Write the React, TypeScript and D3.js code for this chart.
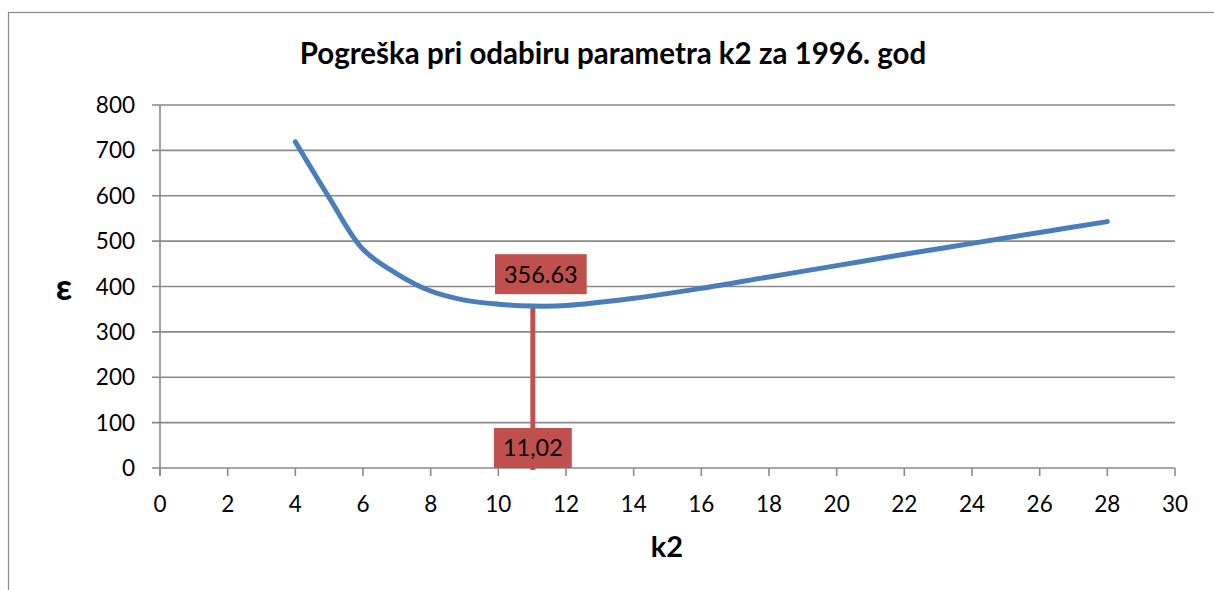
import { useEffect, useRef } from "react";
import * as d3 from "d3";

// curve
const k2Values = [4, 5, 6, 7, 8, 9, 10, 11, 12, 14, 16, 18, 20, 22, 24, 26, 28];
const errorValues = [719, 596, 482, 428, 390, 370, 361, 357, 358, 374, 396, 421, 446, 471, 495, 519, 543];

const xTicks = [0, 2, 4, 6, 8, 10, 12, 14, 16, 18, 20, 22, 24, 26, 28, 30];
const yTicks = [0, 100, 200, 300, 400, 500, 600, 700, 800];

// marked minimum
const minK2 = 11.02;
const minError = 356.63;
const minK2Label = "11,02";
const minErrorLabel = "356.63";

const title = "Pogreška pri odabiru parametra k2 za 1996. god";

const FONT = "Lato, 'Open Sans', sans-serif";
const GRID = "#8a8a8a";
const BLUE = "#4a7ebb";
const RED = "#c0504d";

const App = () => {
  const ref = useRef<SVGSVGElement>(null);

  useEffect(() => {
    if (!ref.current) return;
    const svg = d3.select(ref.current);
    svg.selectAll("*").remove();

    const left = 160;
    const right = 1175;
    const top = 105;
    const bottom = 468;

    const x = d3.scaleLinear().domain([0, 30]).range([left, right]);
    const y = d3.scaleLinear().domain([0, 800]).range([bottom, top]);

    // outer frame
    svg
      .append("rect")
      .attr("x", 8.5)
      .attr("y", 12.5)
      .attr("width", 1220)
      .attr("height", 600)
      .attr("fill", "#fff")
      .attr("stroke", GRID)
      .attr("stroke-width", 1.2);

    // title
    svg
      .append("text")
      .attr("x", 613)
      .attr("y", 64)
      .attr("text-anchor", "middle")
      .style("font-family", FONT)
      .style("font-weight", "bold")
      .style("font-size", "29.5px")
      .text(title);

    // horizontal gridlines + y ticks
    const g = svg.append("g");
    g.selectAll(".grid")
      .data(yTicks)
      .enter()
      .append("line")
      .attr("x1", left - 8)
      .attr("x2", right)
      .attr("y1", (d) => y(d))
      .attr("y2", (d) => y(d))
      .attr("stroke", GRID)
      .attr("stroke-width", 1.6);

    g.selectAll(".ylab")
      .data(yTicks)
      .enter()
      .append("text")
      .attr("x", 135)
      .attr("y", (d) => y(d))
      .attr("dy", "0.36em")
      .attr("text-anchor", "end")
      .style("font-family", FONT)
      .style("font-size", "22.5px")
      .text((d) => d);

    // y axis line
    g.append("line")
      .attr("x1", left)
      .attr("x2", left)
      .attr("y1", top)
      .attr("y2", bottom + 8)
      .attr("stroke", GRID)
      .attr("stroke-width", 1.6);

    // x ticks
    g.selectAll(".xtick")
      .data(xTicks)
      .enter()
      .append("line")
      .attr("x1", (d) => x(d))
      .attr("x2", (d) => x(d))
      .attr("y1", bottom)
      .attr("y2", bottom + 8)
      .attr("stroke", GRID)
      .attr("stroke-width", 1.6);

    g.selectAll(".xlab")
      .data(xTicks)
      .enter()
      .append("text")
      .attr("x", (d) => x(d))
      .attr("y", 512)
      .attr("text-anchor", "middle")
      .style("font-family", FONT)
      .style("font-size", "22.5px")
      .text((d) => d);

    // axis titles
    svg
      .append("text")
      .attr("x", 667)
      .attr("y", 557)
      .attr("text-anchor", "middle")
      .style("font-family", FONT)
      .style("font-weight", "bold")
      .style("font-size", "29px")
      .text("k2");

    svg
      .append("text")
      .attr("x", 64)
      .attr("y", 300)
      .attr("text-anchor", "middle")
      .style("font-family", FONT)
      .style("font-weight", "bold")
      .style("font-size", "36px")
      .text("ε");

    // drop line at the minimum
    svg
      .append("line")
      .attr("x1", x(minK2))
      .attr("x2", x(minK2))
      .attr("y1", y(minError))
      .attr("y2", y(0) + 2)
      .attr("stroke", RED)
      .attr("stroke-width", 5);

    // error curve
    const pts = k2Values.map((k, i) => [k, errorValues[i]] as [number, number]);
    const line = d3
      .line<[number, number]>()
      .x((d) => x(d[0]))
      .y((d) => y(d[1]))
      .curve(d3.curveCatmullRom.alpha(0.5));

    svg
      .append("path")
      .attr("d", line(pts))
      .attr("fill", "none")
      .attr("stroke", BLUE)
      .attr("stroke-width", 5)
      .attr("stroke-linecap", "round")
      .attr("stroke-linejoin", "round");

    // value labels
    const addLabel = (cx: number, cy: number, text: string) => {
      const lg = svg.append("g");
      const rect = lg.append("rect").attr("fill", RED);
      const t = lg
        .append("text")
        .attr("x", cx)
        .attr("y", cy)
        .attr("dy", "0.36em")
        .attr("text-anchor", "middle")
        .style("font-family", FONT)
        .style("font-size", "23.5px")
        .style("fill", "#000")
        .text(text);
      const w = (t.node() as SVGTextElement).getComputedTextLength();
      rect
        .attr("x", cx - w / 2 - 9)
        .attr("y", cy - 20)
        .attr("width", w + 18)
        .attr("height", 40);
    };

    addLabel(x(minK2) + 8, y(minError) - 32, minErrorLabel);
    addLabel(x(minK2), y(0) - 20, minK2Label);
  }, []);

  return (
    <svg
      ref={ref}
      width={1214}
      height={590}
      style={{ position: "absolute", left: 0, top: 0, background: "#fff" }}
    />
  );
};

export default App;
